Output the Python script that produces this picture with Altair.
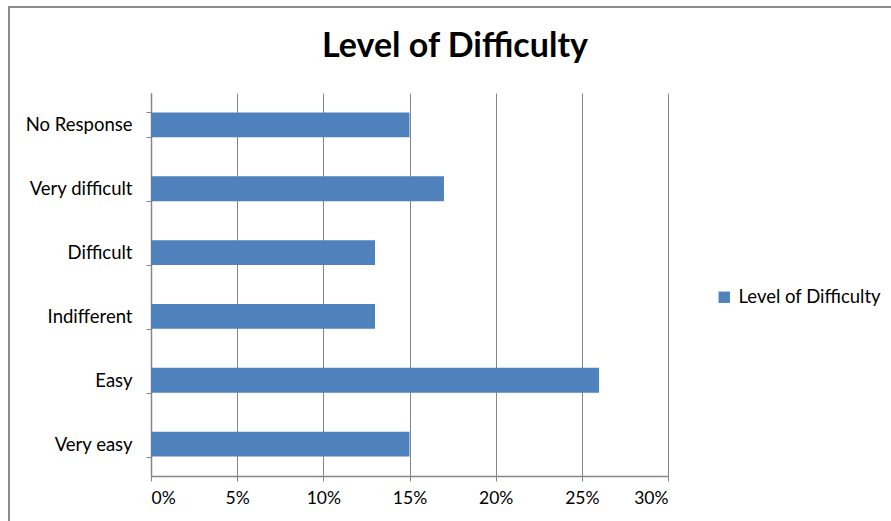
import altair as alt
import pandas as pd

# Survey responses: share of respondents per difficulty rating
categories = ["No Response", "Very difficult", "Difficult", "Indifferent", "Easy", "Very easy"]
shares = [0.15, 0.17, 0.13, 0.13, 0.26, 0.15]
series_name = "Level of Difficulty"
x_ticks = [0, 0.05, 0.10, 0.15, 0.20, 0.25, 0.30]

df = pd.DataFrame({"category": categories, "share": shares, "series": series_name})

FONT = "Lato"
BAR = "#4F81BD"
GRID = "#868686"

bars = alt.Chart(df).mark_bar(color=BAR).encode(
    y=alt.Y(
        "category:N",
        sort=categories,
        title=None,
        scale=alt.Scale(paddingInner=0.61, paddingOuter=0.305),
        axis=alt.Axis(
            tickBand="extent",
            tickSize=5,
            tickColor=GRID,
            domainColor=GRID,
            domainWidth=1.5,
            labelFont=FONT,
            labelFontSize=18.5,
            labelColor="#000000",
            labelPadding=14,
            grid=False,
        ),
    ),
    x=alt.X(
        "share:Q",
        title=None,
        scale=alt.Scale(domain=[0, 0.3], nice=False),
        axis=alt.Axis(
            values=x_ticks,
            format=".0%",
            tickSize=5,
            tickColor=GRID,
            domainColor=GRID,
            domainWidth=1.5,
            gridColor=GRID,
            gridWidth=1,
            labelFont=FONT,
            labelFontSize=17.5,
            labelColor="#000000",
            labelPadding=8,
        ),
    ),
    color=alt.Color(
        "series:N",
        scale=alt.Scale(range=[BAR]),
        legend=alt.Legend(
            title=None,
            orient="none",
            legendX=564,
            legendY=195,
            symbolType="square",
            symbolSize=130,
            symbolStrokeWidth=0,
            labelFont=FONT,
            labelFontSize=18.5,
            labelColor="#000000",
            labelOffset=5,
        ),
    ),
)

# Outer frame around the whole chart
frame = alt.Chart(pd.DataFrame({"k": [0]})).mark_rect(
    fill=None, stroke="#8C8C8C", strokeWidth=2
).encode(
    x=alt.value(-142), x2=alt.value(760), y=alt.value(-86), y2=alt.value(450)
)

# Chart heading, centred over the frame
heading = alt.Chart(pd.DataFrame({"t": [series_name]})).mark_text(
    font=FONT, fontSize=34, fontWeight="bold", color="#000000",
    align="center", baseline="alphabetic"
).encode(
    text="t:N", x=alt.value(304), y=alt.value(-36)
)

chart = alt.layer(frame, bars, heading).properties(
    width=517,
    height=383,
    padding={"left": 151, "top": 93, "right": 223, "bottom": 45},
    autosize=alt.AutoSizeParams(type="none"),
    background="white",
).configure_view(strokeWidth=0, stroke="transparent")

chart.save("out.html", embed_options={"renderer": "svg", "actions": False})
